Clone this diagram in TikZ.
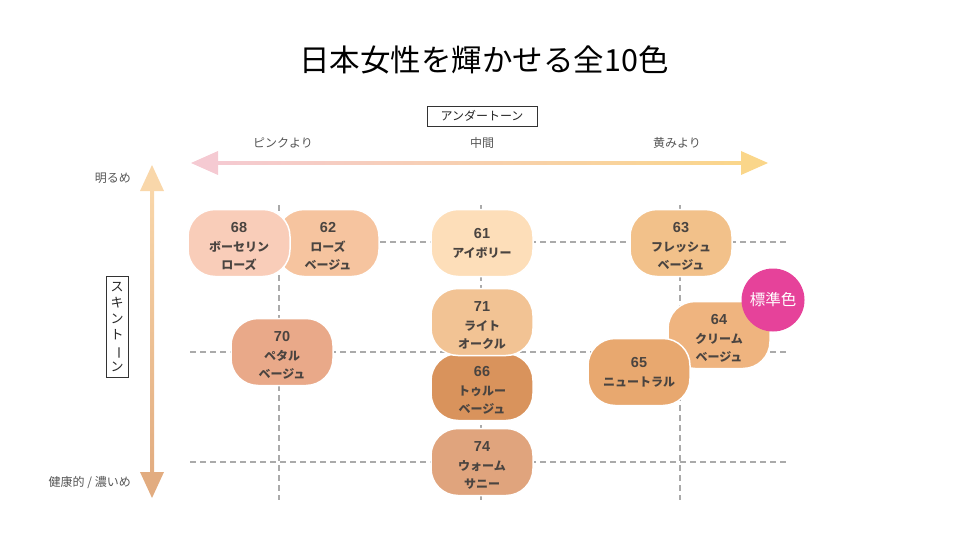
\documentclass[tikz,border=0pt]{standalone}
\usepackage{fontspec}
\setmainfont{Noto Sans CJK JP}
\newfontfamily\numfont{Liberation Sans}
\definecolor{c68}{HTML}{F9CDB9}
\definecolor{c62}{HTML}{F6C49F}
\definecolor{c61}{HTML}{FDDEB9}
\definecolor{c63}{HTML}{F2C18A}
\definecolor{c70}{HTML}{E9A989}
\definecolor{c71}{HTML}{F2C394}
\definecolor{c66}{HTML}{D9935C}
\definecolor{c74}{HTML}{E0A47D}
\definecolor{c64}{HTML}{EFB47F}
\definecolor{c65}{HTML}{E8A86F}
\definecolor{stdc}{HTML}{E6429A}
\definecolor{labc}{HTML}{4A4440}
\definecolor{axc}{HTML}{555555}
\definecolor{gridc}{HTML}{AAAAAA}
\definecolor{hpink}{HTML}{F5CAD2}
\definecolor{hyel}{HTML}{FAD68A}
\definecolor{vtop}{HTML}{F9D7AA}
\definecolor{vbot}{HTML}{E2AC80}
\newcommand{\bt}[2]{{\numfont\bfseries\fontsize{14.5}{18}\selectfont #1}\\[1pt]#2}
\newcommand{\btt}[2]{{}\\[-2pt]{\numfont\bfseries\fontsize{14.5}{18}\selectfont #1}\\[1pt]#2}
\begin{document}
\begin{tikzpicture}[x=1pt,y=-1pt,
  blob/.style={draw=white, line width=1.5pt, rounded corners=27pt,
    minimum width=102pt, minimum height=67pt, inner sep=0pt, align=center,
    text=labc, font=\fontsize{12}{18}\selectfont\bfseries},
  gridline/.style={draw=gridc, dash pattern=on 6pt off 4pt, line width=1.2pt},
  axlabel/.style={text=axc, font=\fontsize{12}{14}\selectfont, inner sep=0pt},
  axbox/.style={draw=black!80, line width=0.7pt, text=black!85, fill=white,
    font=\fontsize{12}{14}\selectfont, inner sep=0pt}]
\useasboundingbox (0,0) rectangle (960,540);
% title
\node[font=\fontsize{30.5}{34}\selectfont, text=black] (title) at (484,60) {日本女性を輝かせる全10色};
% grid
\foreach \x in {279,481,680} \draw[gridline] (\x,205) -- (\x,500);
\foreach \y in {242,352,462} \draw[gridline] (190,\y) -- (787,\y);
% horizontal axis
\shade[left color=hpink, right color=hyel] (214,161.5) rectangle (746,165);
\fill[hpink] (191,163) -- (218,151) -- (218,175) -- cycle;
\fill[hyel] (768,163) -- (741,151) -- (741,175) -- cycle;
% vertical axis
\shade[top color=vtop, bottom color=vbot] (150.5,186) rectangle (154,477);
\fill[vtop] (152,165) -- (140,191) -- (164,191) -- cycle;
\fill[vbot] (152,498) -- (140,472) -- (164,472) -- cycle;
% axis labels
\node[axbox, minimum width=110pt, minimum height=20pt] (under) at (482,116) {アンダートーン};
\node[axlabel] (pink) at (283,143) {ピンクより};
\node[axlabel] (mid) at (482,143) {中間};
\node[axlabel] (yel) at (677,143) {黄みより};
\node[axlabel, anchor=east] (light) at (131,178) {明るめ};
\node[axlabel, anchor=east] (dark) at (131,483) {健康的 / 濃いめ};
\node[axbox, minimum width=22pt, minimum height=101pt, align=center,
  font=\fontsize{13}{16}\selectfont] (skin) at (117,327)
  {ス\\キ\\ン\\ト\\\rotatebox[origin=c]{-90}{ー}\\ン};
% swatches
\node[blob, fill=c62] (n62) at (328,243) {\btt{62}{ローズ\\ベージュ}};
\node[blob, fill=c68] (n68) at (239,243) {\btt{68}{ボーセリン\\ローズ}};
\node[blob, fill=c61] (n61) at (482,243) {\bt{61}{アイボリー}};
\node[blob, fill=c63] (n63) at (681,243) {\btt{63}{フレッシュ\\ベージュ}};
\node[blob, fill=c70] (n70) at (282,352) {\btt{70}{ペタル\\ベージュ}};
\node[blob, fill=c66] (n66) at (482,387) {\btt{66}{トゥルー\\ベージュ}};
\node[blob, fill=c71] (n71) at (482,322) {\btt{71}{ライト\\オークル}};
\node[blob, fill=c74] (n74) at (482,462) {\btt{74}{ウォーム\\サニー}};
\node[blob, fill=c64] (n64) at (719,335) {\btt{64}{クリーム\\ベージュ}};
\node[blob, fill=c65] (n65) at (639,372) {\bt{65}{ニュートラル}};
\node[circle, fill=stdc, minimum size=63pt, inner sep=0pt, text=white,
  font=\fontsize{15.5}{17}\selectfont] (std) at (773,300) {標準色};
\end{tikzpicture}
\end{document}
